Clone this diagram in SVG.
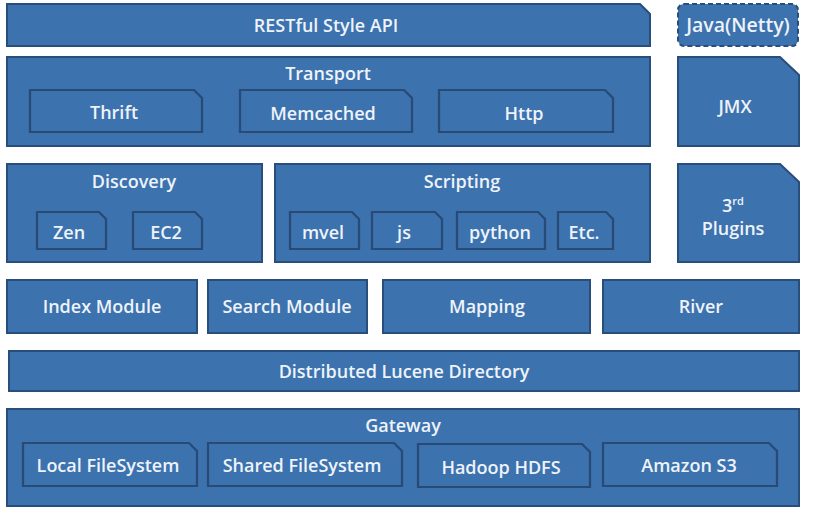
<svg xmlns="http://www.w3.org/2000/svg" width="820" height="507" viewBox="0 0 820 507">
<style>
.b{fill:#3c72ae;stroke:#2a4e7c;stroke-width:2}
.i{fill:#3c72ae;stroke:#284a74;stroke-width:2.2}
.t{font-family:"Open Sans","DejaVu Sans",sans-serif;font-size:18px;font-weight:600;fill:#eef3f9;text-anchor:middle}
</style>
<rect width="820" height="507" fill="#ffffff"/>
<g id="restful"><path class="b" d="M7,4 H640 L650,14 V46 H7 Z"/><text class="t" x="326" y="32">RESTful Style API</text></g>
<g id="java-netty"><rect class="b" x="678" y="4" width="120" height="42" rx="6" stroke-dasharray="5,3"/><text class="t" x="738" y="32" style="font-size:19.5px">Java(Netty)</text></g>
<g id="transport"><rect class="b" x="7" y="57" width="643" height="89"/><text class="t" x="328" y="80">Transport</text></g>
<g id="thrift"><path class="i" d="M30,90 H194 L202,98 V132 H30 Z"/><text class="t" x="114" y="119">Thrift</text></g>
<g id="memcached"><path class="i" d="M240,90 H404 L412,98 V132 H240 Z"/><text class="t" x="323" y="120">Memcached</text></g>
<g id="http"><path class="i" d="M439,90 H605 L613,98 V132 H439 Z"/><text class="t" x="524" y="120">Http</text></g>
<g id="jmx"><path class="b" d="M678,57 H780 L799,75 V146 H678 Z"/><text class="t" x="735" y="113">JMX</text></g>
<g id="discovery"><rect class="b" x="7" y="164" width="255" height="98"/><text class="t" x="134" y="188">Discovery</text></g>
<g id="zen"><path class="i" d="M37,212 H99 L106,219 V249 H37 Z"/><text class="t" x="69" y="239">Zen</text></g>
<g id="ec2"><path class="i" d="M133,212 H195 L202,219 V249 H133 Z"/><text class="t" x="166" y="239">EC2</text></g>
<g id="scripting"><rect class="b" x="275" y="164" width="375" height="98"/><text class="t" x="462" y="188">Scripting</text></g>
<g id="mvel"><path class="i" d="M290,212 H352 L359,219 V249 H290 Z"/><text class="t" x="323" y="239">mvel</text></g>
<g id="js"><path class="i" d="M372,212 H435 L442,219 V249 H372 Z"/><text class="t" x="404" y="239">js</text></g>
<g id="python"><path class="i" d="M457,212 H538 L545,219 V249 H457 Z"/><text class="t" x="500" y="239">python</text></g>
<g id="etc"><path class="i" d="M558,212 H606 L613,219 V249 H558 Z"/><text class="t" x="584" y="239">Etc.</text></g>
<g id="plugins"><path class="b" d="M678,164 H780 L799,182 V262 H678 Z"/><text class="t" x="733" y="212">3<tspan font-size="11" dy="-7">rd</tspan></text><text class="t" x="733" y="235">Plugins</text></g>
<g id="index-module"><rect class="b" x="7" y="280" width="190" height="53"/><text class="t" x="102" y="313">Index Module</text></g>
<g id="search-module"><rect class="b" x="208" y="280" width="159" height="53"/><text class="t" x="287" y="313">Search Module</text></g>
<g id="mapping"><rect class="b" x="383" y="280" width="207" height="53"/><text class="t" x="487" y="313">Mapping</text></g>
<g id="river"><rect class="b" x="603" y="280" width="196" height="53"/><text class="t" x="701" y="313">River</text></g>
<g id="lucene"><rect class="b" x="9" y="351" width="790" height="40"/><text class="t" x="404" y="378">Distributed Lucene Directory</text></g>
<g id="gateway"><rect class="b" x="7" y="409" width="792" height="97"/><text class="t" x="403" y="432">Gateway</text></g>
<g id="local-fs"><path class="i" d="M23,443 H189 L197,451 V486 H23 Z"/><text class="t" x="108" y="472">Local FileSystem</text></g>
<g id="shared-fs"><path class="i" d="M208,443 H394 L402,451 V486 H208 Z"/><text class="t" x="302" y="472">Shared FileSystem</text></g>
<g id="hdfs"><path class="i" d="M418,444 H582 L590,452 V487 H418 Z"/><text class="t" x="501" y="474">Hadoop HDFS</text></g>
<g id="s3"><path class="i" d="M603,443 H769 L777,451 V486 H603 Z"/><text class="t" x="689" y="472">Amazon S3</text></g>
<g id="connectors"/>
</svg>
